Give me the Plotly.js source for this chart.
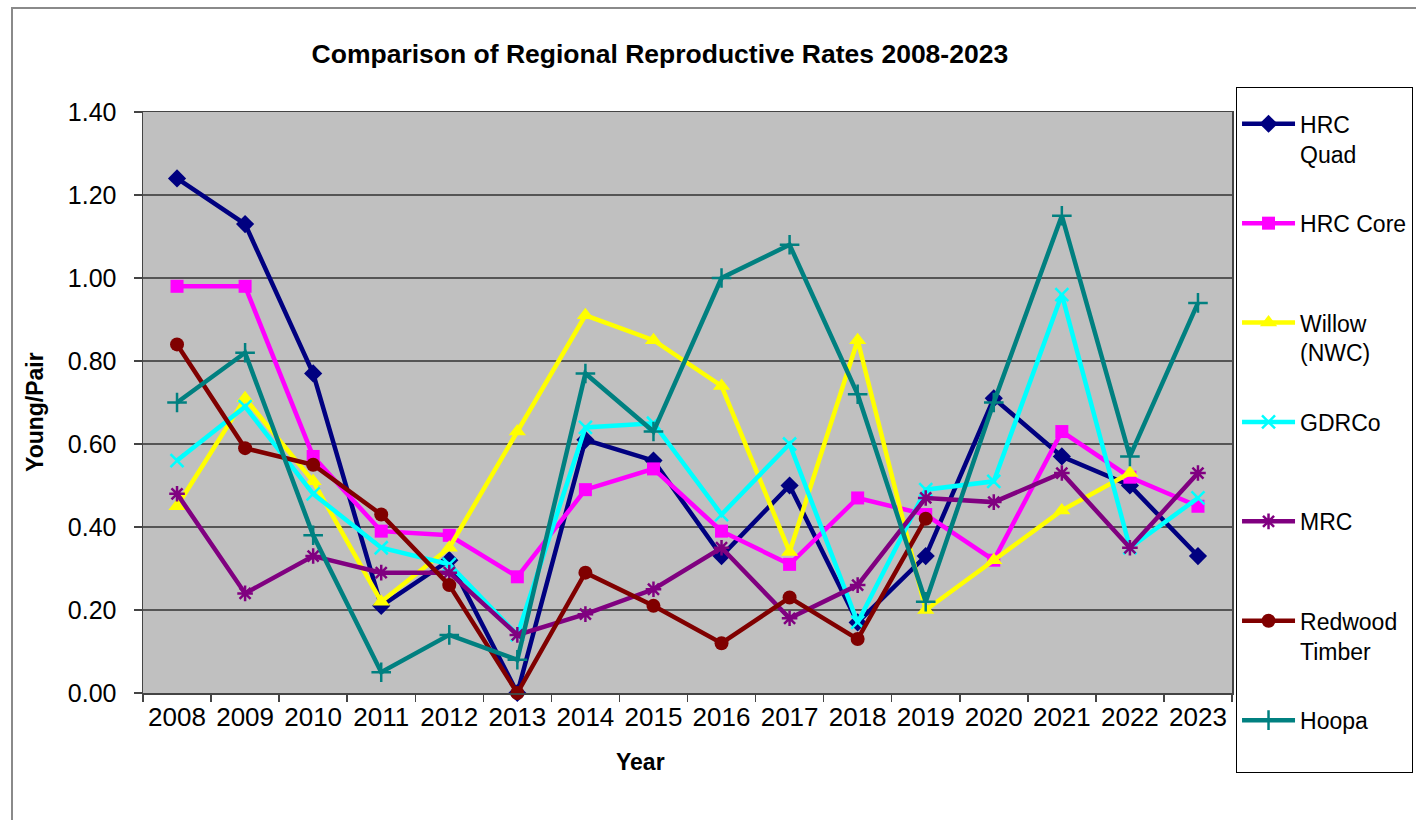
<!DOCTYPE html>
<html>
<head>
<meta charset="utf-8">
<script src="https://cdn.plot.ly/plotly-3.0.1.min.js"></script>
<style>
  html, body { margin: 0; padding: 0; background: #fff; }
  #wrap { position: relative; width: 1416px; height: 820px; overflow: hidden; }
  #chart { position: absolute; left: 0; top: 0; width: 1416px; height: 820px; }
  #frame { position: absolute; left: 11px; top: 7px; width: 1420px; height: 830px;
           border-left: 2px solid #8a8a8a; border-top: 2px solid #8a8a8a; pointer-events: none; }
</style>
</head>
<body>
<div id="wrap">
  <div id="chart"></div>
  <div id="frame"></div>
</div>
<script>
const years = ["2008","2009","2010","2011","2012","2013","2014","2015","2016","2017","2018","2019","2020","2021","2022","2023"];

const hrcQuad   = [1.24, 1.13, 0.77, 0.21, 0.32, 0.00, 0.61, 0.56, 0.33, 0.50, 0.17, 0.33, 0.71, 0.57, 0.50, 0.33];
const hrcCore   = [0.98, 0.98, 0.57, 0.39, 0.38, 0.28, 0.49, 0.54, 0.39, 0.31, 0.47, 0.43, 0.32, 0.63, 0.52, 0.45];
const willow    = [0.45, 0.71, 0.51, 0.22, 0.35, 0.63, 0.91, 0.85, 0.74, 0.34, 0.85, 0.20, 0.32, 0.44, 0.53, null];
const gdrco     = [0.56, 0.69, 0.48, 0.35, 0.31, 0.14, 0.64, 0.65, 0.43, 0.60, 0.17, 0.49, 0.51, 0.96, 0.35, 0.47];
const mrc       = [0.48, 0.24, 0.33, 0.29, 0.29, 0.14, 0.19, 0.25, 0.35, 0.18, 0.26, 0.47, 0.46, 0.53, 0.35, 0.53];
const redwood   = [0.84, 0.59, 0.55, 0.43, 0.26, 0.00, 0.29, 0.21, 0.12, 0.23, 0.13, 0.42, null, null, null, null];
const hoopa     = [0.70, 0.82, 0.38, 0.05, 0.14, 0.08, 0.77, 0.63, 1.00, 1.08, 0.72, 0.22, 0.70, 1.15, 0.57, 0.94];

const seriesNames = ["HRC<br>Quad", "HRC Core<br> ", "Willow<br>(NWC)", "GDRCo<br> ", "MRC<br> ", "Redwood<br>Timber", "Hoopa<br> "];

const FONT = "Liberation Sans, Arial, sans-serif";

function mk(name, y, color, symbol, size, open, group) {
  const marker = { symbol: symbol, size: size, color: color };
  marker.line = { color: color, width: open ? 2.5 : 0 };
  return {
    type: "scatter", mode: "lines+markers", x: years, y: y, name: name,
    legendgroup: group, connectgaps: false,
    line: { color: color, width: 4.5 },
    marker: marker, cliponaxis: false
  };
}

const data = [
  mk(seriesNames[0], hrcQuad, "#000080", "diamond", 14, false, "g1"),
  mk(seriesNames[1], hrcCore, "#FF00FF", "square", 13, false, "g2"),
  mk(seriesNames[2], willow, "#FFFF00", "triangle-up", 15, false, "g3"),
  mk(seriesNames[3], gdrco, "#00FFFF", "x-thin-open", 13, true, "g4"),
  mk(seriesNames[4], mrc, "#800080", "asterisk-open", 13, true, "g5"),
  mk(seriesNames[5], redwood, "#800000", "circle", 14, false, "g6"),
  mk(seriesNames[6], hoopa, "#008080", "cross-thin-open", 14, true, "g7")
];

const layout = {
  width: 1416, height: 820,
  paper_bgcolor: "rgba(0,0,0,0)",
  plot_bgcolor: "#C0C0C0",
  margin: { l: 143, r: 184, t: 112, b: 127, autoexpand: false },
  font: { family: FONT, color: "#000" },
  title: {
    text: "<b>Comparison of Regional Reproductive Rates 2008-2023</b>",
    font: { family: FONT, size: 26.5, color: "#000" },
    xref: "container", yref: "container", x: 0.466, xanchor: "center", y: 0.935, yanchor: "middle"
  },
  xaxis: {
    type: "category",
    tickson: "boundaries",
    ticks: "outside", ticklen: 7, tickcolor: "#444", tickwidth: 1.5,
    showline: true, linecolor: "#444", linewidth: 1.5, mirror: true,
    showgrid: false, zeroline: false,
    tickfont: { family: FONT, size: 26, color: "#000" },
    range: [-0.5, 15.5], fixedrange: true
  },
  yaxis: {
    range: [0, 1.4], dtick: 0.2, tick0: 0, tickformat: ".2f",
    ticks: "outside", ticklen: 8, tickcolor: "#444", tickwidth: 1.5,
    ticklabelstandoff: 12,
    showline: true, linecolor: "#444", linewidth: 1.5, mirror: true,
    showgrid: true, gridcolor: "#555555", gridwidth: 1.5,
    zeroline: false,
    tickfont: { family: FONT, size: 25, color: "#000" },
    fixedrange: true
  },
  legend: {
    x: 1.0037, xanchor: "left", xref: "paper",
    y: 1.043, yanchor: "top", yref: "paper",
    maxheight: 780,
    bgcolor: "#FFFFFF", bordercolor: "#000", borderwidth: 1,
    font: { family: FONT, size: 23, color: "#000" },
    title: { text: " ", font: { family: FONT, size: 11 } },
    valign: "top",
    traceorder: "grouped",
    tracegroupgap: 36.6,
    itemwidth: 53
  },
  annotations: [
    { text: "<b>Year</b>", xref: "paper", yref: "paper", x: (640 - 143) / 1089, y: -(762 - 693) / 581,
      xanchor: "center", yanchor: "middle", showarrow: false, font: { family: FONT, size: 23, color: "#000" } },
    { text: "<b>Young/Pair</b>", xref: "paper", yref: "paper", x: (35 - 143) / 1089, y: (693 - 412) / 581,
      xanchor: "center", yanchor: "middle", textangle: -90, showarrow: false, font: { family: FONT, size: 23, color: "#000" } }
  ]
};

Plotly.newPlot("chart", data, layout, { displayModeBar: false, staticPlot: true });
</script>
</body>
</html>
